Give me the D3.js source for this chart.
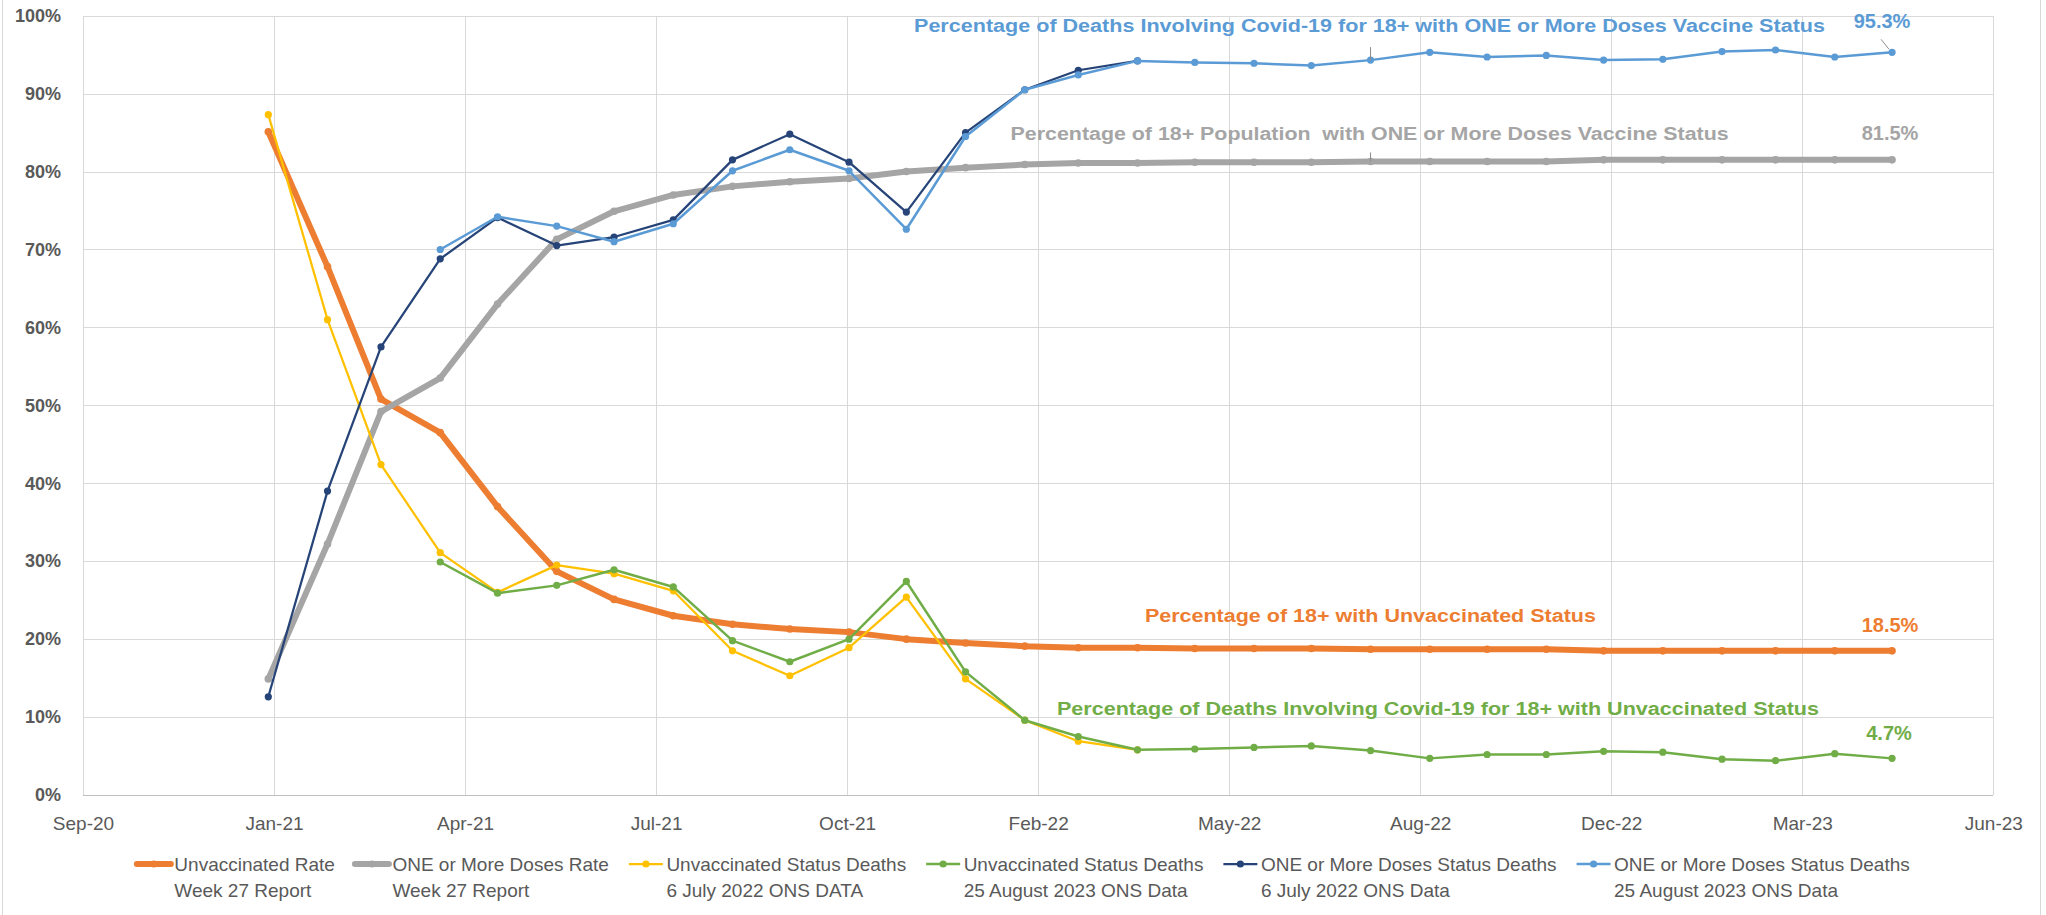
<!DOCTYPE html>
<html>
<head>
<meta charset="utf-8">
<script src="https://cdn.jsdelivr.net/npm/d3@7"></script>
<style>
  body { margin: 0; background: #fff; }
  svg text { font-family: "Liberation Sans", Arial, sans-serif; }
</style>
</head>
<body>
<div id="chart"></div>
<script>
// monthly points, Jan-21 .. May-23
var months = ["2021-01","2021-02","2021-03","2021-04","2021-05","2021-06","2021-07","2021-08","2021-09","2021-10","2021-11","2021-12",
  "2022-01","2022-02","2022-03","2022-04","2022-05","2022-06","2022-07","2022-08","2022-09","2022-10","2022-11","2022-12",
  "2023-01","2023-02","2023-03","2023-04","2023-05"];

// % of 18+ population (week 27 report), from Jan-21
var unvaxRate = [85.1,67.8,50.8,46.5,37.0,28.7,25.1,23.0,21.9,21.3,20.9,20.0,
  19.5,19.1,18.9,18.9,18.8,18.8,18.8,18.7,18.7,18.7,18.7,18.5,
  18.5,18.5,18.5,18.5,18.5];
var oneDoseRate = [14.9,32.2,49.2,53.5,63.0,71.3,74.9,77.0,78.1,78.7,79.1,80.0,
  80.5,80.9,81.1,81.1,81.2,81.2,81.2,81.3,81.3,81.3,81.3,81.5,
  81.5,81.5,81.5,81.5,81.5];

// % of deaths, 6 July 2022 ONS data (Jan-21 .. Apr-22)
var unvaxDeathsJul22 = [87.3,61.0,42.4,31.1,26.0,29.5,28.4,26.2,18.5,15.3,18.9,25.4,14.9,9.6,6.9,5.8];
var oneDoseDeathsJul22 = [12.6,39.0,57.5,68.8,74.1,70.5,71.6,73.8,81.5,84.8,81.2,74.8,85.0,90.5,93.0,94.2];

// % of deaths, 25 August 2023 ONS data (Apr-21 .. May-23)
var unvaxDeathsAug23 = [29.9,25.9,26.9,28.9,26.7,19.8,17.1,20.0,27.4,
  15.8,9.6,7.5,5.8,5.9,6.1,6.3,5.7,4.7,5.2,5.2,5.6,
  5.5,4.6,4.4,5.3,4.7];
var oneDoseDeathsAug23 = [70.0,74.2,73.0,71.0,73.3,80.1,82.8,80.1,72.6,
  84.5,90.5,92.4,94.2,94.0,93.9,93.6,94.3,95.3,94.7,94.9,94.3,
  94.4,95.4,95.6,94.7,95.3];

var yTicks = [0,10,20,30,40,50,60,70,80,90,100];

var W = 2046, H = 915;
var plot = {left: 83, right: 1993.3, top: 15.7, bottom: 795};
var parseMonth = d3.utcParse("%Y-%m");
var dates = months.map(parseMonth);

var svg = d3.select("#chart")
  .append("svg")
  .attr("width", W)
  .attr("height", H);

// chart area frame (left / right edges only visible)
svg.append("line").attr("x1", 2.5).attr("x2", 2.5).attr("y1", 0).attr("y2", H)
  .attr("stroke", "#D9D9D9");
svg.append("line").attr("x1", 2040.5).attr("x2", 2040.5).attr("y1", 0).attr("y2", H)
  .attr("stroke", "#D9D9D9");

var x = d3.scaleUtc()
  .domain([new Date(Date.UTC(2020, 8, 26)), new Date(Date.UTC(2023, 5, 23))])
  .range([plot.left, plot.right]);
var y = d3.scaleLinear().domain([0, 100]).range([plot.bottom, plot.top]);
// excel date axis: major unit 100 days
var xTicks = d3.range(0, 11).map(function(i){ return d3.utcDay.offset(x.domain()[0], i * 100); });

// gridlines
svg.append("g")
  .attr("transform", "translate(0," + plot.bottom + ")")
  .call(d3.axisBottom(x).tickValues(xTicks).tickSize(-(plot.bottom - plot.top)).tickFormat(""))
  .call(function(g){ g.select(".domain").remove(); })
  .selectAll("line").attr("stroke", "#D9D9D9").attr("shape-rendering", "crispEdges");
svg.append("g")
  .attr("transform", "translate(" + plot.left + ",0)")
  .call(d3.axisLeft(y).tickValues(yTicks).tickSize(-(plot.right - plot.left)).tickFormat(""))
  .call(function(g){ g.select(".domain").remove(); })
  .selectAll("line").attr("stroke", "#D9D9D9").attr("shape-rendering", "crispEdges");
svg.append("line")
  .attr("x1", plot.left).attr("x2", plot.right).attr("y1", plot.bottom).attr("y2", plot.bottom)
  .attr("stroke", "#BFBFBF").attr("shape-rendering", "crispEdges");

// y labels
var yAxis = svg.append("g")
  .attr("transform", "translate(" + plot.left + ",0)")
  .call(d3.axisLeft(y).tickValues(yTicks).tickSize(0).tickPadding(22).tickFormat(function(d){ return d + "%"; }));
yAxis.select(".domain").remove();
yAxis.selectAll("text")
  .attr("font-family", null)
  .style("font-size", "18px").style("font-weight", "bold").attr("fill", "#595959");

// x labels
var xAxis = svg.append("g")
  .attr("transform", "translate(0," + plot.bottom + ")")
  .call(d3.axisBottom(x).tickValues(xTicks).tickSize(0).tickPadding(21.5).tickFormat(d3.utcFormat("%b-%y")));
xAxis.select(".domain").remove();
xAxis.selectAll("text")
  .attr("font-family", null)
  .style("font-size", "19px").attr("fill", "#595959");

var series = [
  {label: "Unvaccinated Rate", label2: "Week 27 Report", color: "#ED7D31", sw: 6, start: 0, values: unvaxRate},
  {label: "ONE or More Doses Rate", label2: "Week 27 Report", color: "#A5A5A5", sw: 6, start: 0, values: oneDoseRate},
  {label: "Unvaccinated Status Deaths", label2: "6 July 2022 ONS DATA", color: "#FFC000", sw: 2.25, start: 0, values: unvaxDeathsJul22},
  {label: "Unvaccinated Status Deaths", label2: "25 August 2023 ONS Data", color: "#70AD47", sw: 2.5, start: 3, values: unvaxDeathsAug23},
  {label: "ONE or More Doses Status Deaths", label2: "6 July 2022 ONS Data", color: "#264478", sw: 2.25, start: 0, values: oneDoseDeathsJul22},
  {label: "ONE or More Doses Status Deaths", label2: "25 August 2023 ONS Data", color: "#5B9BD5", sw: 2.5, start: 3, values: oneDoseDeathsAug23}
];

var line = d3.line()
  .x(function(d){ return x(d.date); })
  .y(function(d){ return y(d.v); });

series.forEach(function(s){
  var pts = s.values.map(function(v, i){ return {date: dates[s.start + i], v: v}; });
  s.pts = pts;
  var g = svg.append("g");
  g.append("path")
    .datum(pts)
    .attr("d", line)
    .attr("fill", "none")
    .attr("stroke", s.color)
    .attr("stroke-width", s.sw)
    .attr("stroke-linejoin", "round")
    .attr("stroke-linecap", "round");
  g.selectAll("circle")
    .data(pts).enter()
    .append("circle")
    .attr("cx", function(d){ return x(d.date); })
    .attr("cy", function(d){ return y(d.v); })
    .attr("r", s.sw > 3 ? 3.8 : 3.6)
    .attr("fill", s.color);
});

// leader stubs left over from excel data labels
var aug22 = dates[19];
[[series[5], 19 - 3, 13], [series[1], 19, 9]].forEach(function(a){
  var p = a[0].pts[a[1]];
  svg.append("line")
    .attr("x1", x(p.date)).attr("x2", x(p.date))
    .attr("y1", y(p.v)).attr("y2", y(p.v) - a[2])
    .attr("stroke", "#8C8C8C").attr("stroke-width", 1);
});

// end-of-line value labels
var fmt = function(v){ return d3.format(".1f")(v) + "%"; };
var endLabels = [
  {s: series[5], dx: -10, dy: -24},
  {s: series[1], dx: -2, dy: -20},
  {s: series[0], dx: -2, dy: -18.5},
  {s: series[3], dx: -3, dy: -18.4}
];
endLabels.forEach(function(e){
  var p = e.s.pts[e.s.pts.length - 1];
  svg.append("text")
    .attr("x", x(p.date) + e.dx)
    .attr("y", y(p.v) + e.dy)
    .attr("text-anchor", "middle")
    .style("font-size", "20px")
    .style("font-weight", "bold")
    .attr("fill", e.s.color)
    .text(fmt(p.v));
});
var lb = series[5].pts[series[5].pts.length - 1];
svg.append("line")
  .attr("x1", x(lb.date) - 11).attr("y1", y(lb.v) - 13)
  .attr("x2", x(lb.date) - 3).attr("y2", y(lb.v) - 3)
  .attr("stroke", "#8C8C8C").attr("stroke-width", 1);

// text box annotations
var notes = [
  {text: "Percentage of Deaths Involving Covid-19 for 18+ with ONE or More Doses Vaccine Status", color: "#5B9BD5", cx: 1369.5, base: 31.7, len: 911},
  {text: "Percentage of 18+ Population  with ONE or More Doses Vaccine Status", color: "#A5A5A5", cx: 1369.6, base: 140, len: 718},
  {text: "Percentage of 18+ with Unvaccinated Status", color: "#ED7D31", cx: 1370.4, base: 621.7, len: 451},
  {text: "Percentage of Deaths Involving Covid-19 for 18+ with Unvaccinated Status", color: "#70AD47", cx: 1438, base: 715, len: 762}
];
svg.selectAll("text.note")
  .data(notes).enter()
  .append("text")
  .attr("class", "note")
  .attr("x", function(d){ return d.cx - d.len / 2; })
  .attr("y", function(d){ return d.base; })
  .attr("textLength", function(d){ return d.len; })
  .attr("lengthAdjust", "spacingAndGlyphs")
  .style("font-size", "18px")
  .style("font-weight", "bold")
  .style("white-space", "pre")
  .attr("fill", function(d){ return d.color; })
  .text(function(d){ return d.text; });

// legend
var legend = svg.append("g");
var lx = 0;
series.forEach(function(s){
  var item = legend.append("g").attr("transform", "translate(" + lx + ",0)");
  item.append("line")
    .attr("x1", 0).attr("x2", 34).attr("y1", 864).attr("y2", 864)
    .attr("stroke", s.color).attr("stroke-width", s.sw)
    .attr("stroke-linecap", s.sw > 3 ? "round" : "butt");
  item.append("circle").attr("cx", 17).attr("cy", 864).attr("r", 3.6).attr("fill", s.color);
  var t1 = item.append("text").attr("x", 37.5).attr("y", 870.5)
    .style("font-size", "19px").attr("fill", "#595959").text(s.label);
  var t2 = item.append("text").attr("x", 37.5).attr("y", 896.5)
    .style("font-size", "19px").attr("fill", "#595959").text(s.label2);
  var w = Math.max(t1.node().getComputedTextLength(), t2.node().getComputedTextLength());
  lx += 37.5 + w + 20;
});
var legendW = lx - 20;
legend.attr("transform", "translate(" + (1023.3 - legendW / 2) + ",0)");
</script>
</body>
</html>
